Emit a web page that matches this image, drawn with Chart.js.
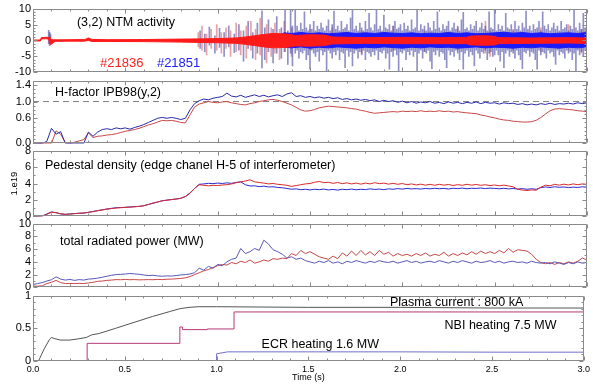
<!DOCTYPE html>
<html><head><meta charset="utf-8">
<script src="https://cdn.jsdelivr.net/npm/chart.js@4.4.1/dist/chart.umd.min.js"></script>
<style>html,body{margin:0;padding:0;background:#fff;width:593px;height:385px;overflow:hidden}#wrap{position:relative;width:593px;height:385px}</style>
</head><body><div id="wrap"></div>
<script>
// ---------- shared time grid (s) ----------
const tGrid = [0,0.025,0.05,0.075,0.1,0.125,0.15,0.175,0.2,0.225,0.25,0.275,0.3,0.325,0.35,0.375,0.4,0.425,0.45,0.475,0.5,0.525,0.55,0.575,0.6,0.625,0.65,0.675,0.7,0.725,0.75,0.775,0.8,0.825,0.85,0.875,0.9,0.925,0.95,0.975,1,1.025,1.05,1.075,1.1,1.125,1.15,1.175,1.2,1.225,1.25,1.275,1.3,1.325,1.35,1.375,1.4,1.425,1.45,1.475,1.5,1.525,1.55,1.575,1.6,1.625,1.65,1.675,1.7,1.725,1.75,1.775,1.8,1.825,1.85,1.875,1.9,1.925,1.95,1.975,2,2.025,2.05,2.075,2.1,2.125,2.15,2.175,2.2,2.225,2.25,2.275,2.3,2.325,2.35,2.375,2.4,2.425,2.45,2.475,2.5,2.525,2.55,2.575,2.6,2.625,2.65,2.675,2.7,2.725,2.75,2.775,2.8,2.825,2.85,2.875,2.9,2.925,2.95,2.975,3];

// ---------- panel 1 : (3,2) NTM activity ----------
const ntmRedT  = [0,0.04,0.045,0.075,0.085,0.09,0.095,0.1,0.11,0.12, 0.13,0.2,0.28,0.3,0.32,0.4,0.6,0.8,0.9,1.0, 1.1,1.15,1.2,1.25,1.3,1.35,1.38,1.42,1.5,1.58, 1.62,1.7,1.8,2.0,2.2,2.35,2.37,2.45,2.5,2.52, 2.7,2.9,3.0];
const ntmRedHi = [0.15,0.15,0.9,1.0,1.0,1.2,0.6,0.3,0.2,0.25, 0.2,0.25,0.3,0.8,0.35,0.25,0.3,0.45,0.5,0.6, 0.8,1.1,1.5,1.9,2.2,2.1,2.0,1.6,1.8,1.7, 1.1,1.0,0.9,1.0,0.9,1.0,1.4,1.5,1.3,0.9, 0.8,0.9,0.8];
const ntmRedLo = [-0.15,-0.15,0.5,0.55,0.5,-1.0,-1.3,-1.2,-0.6,-0.3, -0.25,-0.2,-0.2,0.0,-0.3,-0.3,-0.35,-0.5,-0.6,-0.7, -0.9,-1.2,-1.6,-2.0,-2.3,-2.2,-2.1,-1.7,-1.8,-1.6, -1.1,-1.0,-0.9,-1.0,-1.0,-1.0,-1.4,-1.5,-1.4,-1.0, -0.9,-0.8,-0.9];
const ntmBlueT  = [1.3,1.33,1.36,1.4,1.45,1.5,1.55,1.6,1.65,1.7, 1.75,1.8,1.85,1.9,1.95,2.0,2.05,2.1,2.15,2.2, 2.25,2.3,2.35,2.4,2.45,2.5,2.55,2.6,2.65,2.7, 2.75,2.8,2.85,2.9,2.95,3.0];
const ntmBlueHi = [0.6,1.5,2.4,2.2,2.5,2.2,2.4,2.1,2.3,2.5, 2.2,2.4,2.2,2.5,2.3,2.2,2.4,2.1,2.3,2.2, 2.5,2.2,2.4,2.1,2.2,2.4,2.6,2.3,2.5,2.2, 2.4,2.1,2.3,2.4,2.2,2.5];
const ntmBlueLo = [-0.6,-1.5,-2.1,-2.3,-2.0,-2.4,-2.1,-2.3,-2.0,-2.2, -2.4,-2.1,-2.3,-2.0,-2.2,-2.4,-2.1,-2.3,-2.0,-2.2, -2.1,-2.4,-2.2,-2.0,-2.3,-2.1,-2.2,-2.4,-2.1,-2.3, -2.0,-2.2,-2.4,-2.1,-2.3,-2.0];
// individual oscillation peaks (time, upper, lower)
const spkBT = [0.085,0.09,0.095,0.905,0.93,0.955,0.985,1.01,1.035,1.06,
 1.09,1.115,1.14,1.165,1.19,1.215,1.24,1.255,1.275,1.3,
 1.32,1.345,1.365,1.38,1.395,1.405,1.42,1.43,1.44,1.45,
 1.46,1.47,1.48,1.49,1.5,1.51,1.52,1.53,1.54,1.55,
 1.56,1.57,1.58,1.59,1.6,1.61,1.62,1.63,1.64,1.65,
 1.66,1.67,1.68,1.69,1.7,1.71,1.72,1.73,1.74,1.75,
 1.76,1.77,1.78,1.79,1.8,1.81,1.82,1.83,1.84,1.85,
 1.86,1.87,1.88,1.89,1.9,1.91,1.92,1.93,1.94,1.95,
 1.96,1.97,1.98,1.99,2.0,2.01,2.02,2.03,2.04,2.05,
 2.06,2.07,2.08,2.09,2.1,2.11,2.12,2.13,2.14,2.15,
 2.16,2.17,2.18,2.19,2.2,2.21,2.22,2.23,2.24,2.25,
 2.26,2.27,2.28,2.29,2.3,2.31,2.32,2.33,2.34,2.35,
 2.36,2.37,2.38,2.39,2.4,2.41,2.42,2.43,2.44,2.45,
 2.46,2.47,2.48,2.49,2.5,2.51,2.52,2.53,2.54,2.55,
 2.56,2.57,2.58,2.59,2.6,2.61,2.62,2.63,2.64,2.65,
 2.66,2.67,2.68,2.69,2.7,2.71,2.72,2.73,2.74,2.75,
 2.76,2.77,2.78,2.79,2.8,2.81,2.82,2.83,2.84,2.85,
 2.86,2.87,2.88,2.89,2.9,2.91,2.92,2.93,2.94,2.95,
 2.96,2.97,2.98,2.99];
const spkBHi = [3.2,2.6,2.0,3.0,2.0,4.2,1.5,3.8,2.5,4.5,
 2.0,5.0,3.0,6.0,2.5,5.5,9.3,4.0,6.5,3.5,
 7.5,4.0,9.5,3.0,9.8,4.5,9.5,4.5,3.0,5.5,
 3.5,9.0,4.0,3.0,5.0,3.5,6.0,3.0,4.5,3.5,
 5.5,4.0,3.0,4.5,6.5,3.0,5.0,9.2,3.5,4.5,
 3.0,6.0,3.5,4.0,5.0,3.0,7.0,9.5,3.5,4.5,
 3.0,5.5,4.0,3.0,6.0,3.5,8.5,4.0,3.0,5.0,
 9.8,3.5,4.5,3.0,8.0,4.0,3.5,5.0,3.0,4.5,
 6.0,3.5,4.0,5.0,3.0,5.5,3.5,4.5,3.0,6.5,
 3.5,4.0,9.5,3.0,5.0,3.5,4.5,3.0,5.5,4.0,
 3.0,6.0,3.5,9.0,4.0,3.0,5.0,3.5,4.5,6.0,
 3.0,4.0,5.5,3.5,4.5,3.0,6.5,8.8,3.5,4.0,
 3.0,5.0,3.5,4.5,6.0,3.0,4.0,5.5,3.5,4.5,
 3.0,9.0,4.0,3.5,9.8,3.0,5.0,3.5,4.5,3.0,
 8.5,4.0,3.5,5.0,3.0,6.0,3.5,4.5,3.0,5.5,
 4.0,9.2,3.5,4.5,3.0,5.0,3.5,4.0,6.0,3.0,
 9.0,4.5,3.5,5.0,3.0,4.0,5.5,3.5,4.5,3.0,
 6.0,3.5,4.0,5.0,3.0,4.5,3.5,9.8,4.0,3.0,
 5.5,3.5,8.5,4.0];
const spkBLo = [-1.0,-1.6,-0.6,-2.5,-3.5,-1.5,-4.0,-2.2,-5.0,-2.0,
 -3.8,-3.0,-6.5,-2.5,-5.5,-4.0,-8.6,-6.0,-3.5,-7.0,
 -4.0,-5.5,-3.5,-7.5,-4.0,-8.0,-4.0,-3.0,-5.5,-3.5,
 -4.0,-3.0,-6.0,-4.5,-9.0,-3.0,-4.0,-5.0,-3.5,-6.5,
 -3.0,-4.5,-3.5,-9.5,-3.0,-4.0,-5.5,-3.5,-4.5,-3.0,
 -6.0,-3.5,-4.0,-8.5,-3.0,-5.0,-3.5,-8.0,-4.0,-3.0,
 -5.5,-3.5,-4.5,-3.0,-6.0,-3.5,-4.0,-5.0,-3.5,-4.5,
 -3.0,-6.0,-3.5,-4.0,-3.0,-5.5,-4.0,-9.0,-3.5,-5.0,
 -3.0,-4.5,-9.8,-3.5,-4.0,-3.0,-6.0,-3.5,-4.5,-3.0,
 -5.0,-3.5,-9.6,-4.0,-3.0,-5.5,-3.5,-4.0,-3.0,-6.5,
 -8.8,-3.5,-4.5,-3.0,-5.0,-3.5,-4.0,-6.0,-8.5,-3.0,
 -4.5,-3.5,-5.0,-3.0,-4.0,-6.0,-3.5,-9.0,-4.0,-3.0,
 -5.0,-3.5,-4.5,-8.0,-3.0,-4.0,-5.5,-3.5,-4.0,-3.0,
 -6.0,-4.0,-3.5,-5.0,-4.5,-3.0,-4.5,-6.5,-3.5,-8.5,
 -4.0,-3.0,-5.0,-3.5,-4.0,-5.5,-3.0,-4.5,-6.0,-8.8,
 -3.5,-4.0,-3.0,-5.0,-3.5,-4.0,-6.0,-9.0,-3.0,-4.5,
 -3.5,-4.0,-5.5,-3.0,-4.0,-3.5,-5.0,-7.5,-3.0,-4.5,
 -3.5,-4.0,-5.5,-3.0,-4.0,-3.5,-6.0,-4.0,-9.5,-3.0,
 -4.5,-3.5,-5.0,-3.0];
const spkRT  = [0.895,0.915,0.94,0.965,0.995,1.02,1.045,1.07,1.1,1.125, 1.155,1.18,1.205,1.23,1.265,1.29,1.31,1.335,1.36,1.4, 1.5,1.62,1.78,1.95,2.12,2.3,2.45,2.475,2.6,2.75, 2.9,2.97];
const spkRHi = [2.5,4.5,2.0,3.5,5.0,2.5,4.0,3.0,5.5,3.0, 4.5,6.0,3.5,7.0,5.0,4.0,5.5,3.5,6.0,4.0, 3.5,4.0,3.0,4.5,3.0,4.0,6.0,3.0,3.5,4.0, 5.0,3.5];
const spkRLo = [-2.0,-3.0,-4.5,-2.5,-3.0,-4.0,-2.5,-5.0,-3.5,-4.5, -5.5,-3.0,-6.0,-4.5,-7.0,-5.0,-4.0,-6.0,-3.5,-5.0, -3.0,-2.5,-4.0,-3.0,-3.5,-3.0,-4.0,-5.0,-3.0,-3.5, -3.0,-4.0];

// ---------- panel 2 : H-factor ----------
const hBlue = [0,0,0,0.05,0.36,0.22,0.28,0,0,0,
 0,0,0.27,0.17,0.27,0.33,0.35,0.33,0.37,0.35,
 0.37,0.34,0.38,0.41,0.45,0.5,0.55,0.6,0.62,0.6,
 0.62,0.6,0.57,0.6,0.8,0.95,1.02,1.06,1.04,1.08,
 1.1,1.12,1.2,1.13,1.11,1.15,1.1,1.13,1.16,1.12,
 1.15,1.11,1.14,1.16,1.12,1.18,1.21,1.12,1.14,1.1,
 1.12,1.09,1.11,1.08,1.1,1.07,1.09,1.05,1.07,1.04,
 1.06,1.03,1.05,1.02,1.04,1.0,1.03,1.0,1.02,0.98,
 1.01,0.97,1.0,0.96,0.99,0.97,1.0,0.96,0.98,0.95,
 0.99,0.96,0.98,0.95,0.98,0.96,0.99,0.95,0.98,0.96,
 0.97,0.94,0.97,0.95,0.96,0.93,0.95,0.92,0.94,0.92,
 0.95,0.93,0.96,0.93,0.95,0.94,0.96,0.94,0.97,0.95,
 0.97];
const hRed = [0,0,0,0,0,0.3,0.22,0.02,0,0.03,
 0.06,0.09,0.25,0.14,0.17,0.18,0.2,0.21,0.23,0.26,
 0.29,0.31,0.33,0.36,0.4,0.44,0.47,0.51,0.55,0.54,
 0.55,0.53,0.5,0.49,0.68,0.87,0.94,0.97,1.0,0.98,
 0.97,0.99,1.0,0.97,0.95,0.93,0.92,0.95,0.97,1.0,
 1.02,1.04,1.05,1.03,1.0,0.96,0.92,0.86,0.8,0.77,
 0.78,0.81,0.85,0.87,0.89,0.88,0.87,0.86,0.85,0.83,
 0.82,0.79,0.77,0.74,0.72,0.73,0.74,0.75,0.76,0.75,
 0.77,0.76,0.77,0.76,0.78,0.76,0.77,0.76,0.78,0.76,
 0.77,0.75,0.76,0.74,0.73,0.72,0.71,0.68,0.66,0.63,
 0.61,0.58,0.56,0.55,0.53,0.52,0.51,0.51,0.52,0.55,
 0.62,0.7,0.78,0.82,0.83,0.82,0.81,0.8,0.78,0.77,
 0.76];
const hRefLevel = 1.0;

// ---------- panel 3 : pedestal density (1e19) ----------
const dBlue = [0,0,0.05,0.3,0.55,0.45,0.3,0.25,0.3,0.35,
 0.38,0.4,0.5,0.6,0.7,0.8,0.9,0.98,1.05,1.08,
 1.1,1.15,1.18,1.22,1.3,1.45,1.6,1.75,1.9,1.98,
 2.05,2.12,2.2,2.4,2.8,3.4,3.9,3.95,4.02,3.98,
 4.05,4.0,4.08,4.02,4.12,4.2,3.85,3.7,3.72,3.62,
 3.68,3.58,3.6,3.52,3.48,3.4,3.3,3.35,3.25,3.3,
 3.22,3.3,3.25,3.32,3.22,3.28,3.2,3.3,3.25,3.32,
 3.24,3.3,3.26,3.35,3.28,3.32,3.25,3.35,3.3,3.38,
 3.32,3.4,3.34,3.38,3.32,3.4,3.35,3.42,3.36,3.4,
 3.33,3.42,3.38,3.44,3.36,3.42,3.4,3.45,3.38,3.44,
 3.4,3.36,3.42,3.34,3.4,3.32,3.38,3.3,3.36,3.3,
 3.5,3.58,3.52,3.6,3.54,3.58,3.5,3.56,3.52,3.6,
 3.55];
const dRed = [0,0,0.05,0.25,0.5,0.45,0.32,0.25,0.28,0.33,
 0.38,0.42,0.48,0.58,0.7,0.78,0.88,0.95,1.02,1.06,
 1.1,1.13,1.17,1.22,1.3,1.45,1.62,1.76,1.9,1.97,
 2.04,2.1,2.2,2.42,2.85,3.4,3.85,3.78,3.72,3.78,
 3.75,3.82,3.85,3.95,4.1,4.2,4.3,4.45,4.2,4.12,
 4.05,3.95,4.0,3.9,3.85,3.78,3.65,3.75,3.85,3.95,
 4.0,4.15,4.25,4.1,4.15,4.02,4.12,3.98,4.08,3.95,
 4.05,3.92,4.05,3.95,4.1,3.98,4.05,3.92,4.02,3.9,
 4.0,3.85,3.95,3.82,3.92,3.8,3.9,3.78,3.9,3.8,
 3.88,3.76,3.86,3.78,3.9,3.8,3.88,3.78,3.85,3.75,
 3.82,3.72,3.8,3.7,3.6,3.3,3.2,3.15,3.22,3.18,
 3.55,3.8,3.72,3.9,3.8,3.92,3.82,3.95,3.85,3.95,
 3.9];

// ---------- panel 4 : total radiated power (MW) ----------
const rBlue = [0.45,0.6,0.75,1.0,1.2,1.65,1.3,1.15,1.25,1.1,
 1.22,1.15,1.3,1.35,1.45,1.6,1.75,1.9,2.0,2.05,
 2.1,2.18,2.12,2.05,1.95,1.85,1.9,1.8,1.75,1.8,
 1.78,1.85,1.95,2.0,2.1,2.3,3.0,2.7,3.3,3.0,
 3.6,3.4,4.0,4.4,4.6,6.1,5.3,5.6,6.1,5.8,
 7.4,6.8,5.9,5.6,5.2,4.6,4.8,4.4,4.6,4.2,
 4.0,3.8,4.1,3.9,4.2,3.8,4.0,3.7,4.1,3.9,
 4.2,4.0,3.8,4.1,3.9,4.2,4.0,3.9,4.1,3.8,
 4.0,4.2,3.9,4.1,3.8,4.0,4.1,3.9,4.2,4.0,
 3.8,4.1,3.9,4.2,4.0,3.8,4.1,3.9,4.0,4.2,
 3.9,4.1,3.8,4.0,4.1,3.9,4.0,3.8,4.1,3.9,
 3.8,3.9,3.7,4.0,3.8,3.6,3.9,3.7,4.0,3.8,
 3.9];
const rRed = [0.2,0.2,0.25,0.6,0.8,1.1,0.75,0.6,0.62,0.6,
 0.63,0.6,0.7,0.8,0.95,1.0,1.1,1.15,1.22,1.2,
 1.25,1.2,1.23,1.18,1.2,1.22,1.2,1.25,1.22,1.28,
 1.3,1.35,1.4,1.5,1.7,2.0,2.3,2.6,2.8,3.1,
 3.4,3.6,3.5,3.9,3.7,4.1,3.9,4.3,3.8,4.0,
 4.3,4.1,4.5,4.4,4.6,4.5,5.3,5.0,5.8,5.3,
 5.6,5.2,4.8,4.6,4.4,4.9,4.5,5.4,4.9,5.7,
 5.0,5.8,5.1,5.6,5.0,5.8,5.2,5.5,4.9,5.3,
 5.0,5.2,4.9,5.3,5.0,5.4,4.9,5.2,5.0,5.5,
 4.9,5.3,5.0,5.4,5.1,5.6,5.2,5.7,5.3,5.6,
 5.3,5.8,5.4,6.1,5.5,5.9,5.8,5.7,5.2,4.4,
 3.9,3.7,3.9,3.6,3.9,3.7,4.0,3.8,4.1,4.6,
 4.3];

// ---------- panel 5 : plasma current / heating (normalised) ----------
const ipT  = [0,0.03,0.06,0.09,0.1,0.12,0.15,0.2,0.25,0.29,0.32,0.36,0.45,0.55,0.65,0.75,0.8,0.85,0.9,1.0,1.5,2.0,2.5,3.0];
const ipV  = [0,0,0.18,0.33,0.36,0.34,0.32,0.32,0.34,0.36,0.4,0.42,0.5,0.59,0.68,0.76,0.8,0.82,0.83,0.83,0.82,0.82,0.81,0.81];
const nbiT = [0,0.295,0.8,0.815,0.95,1.095,3.0];
const nbiV = [0,0.27,0.52,0.48,0.49,0.75,0.75];
const ecrT = [0,0.998,1.0,1.06,1.5,2.0,2.5,3.0];
const ecrV = [0,0,0.11,0.14,0.14,0.14,0.135,0.135];

// ---------- ticks ----------
const xMajor = [0,0.5,1,1.5,2,2.5,3];
const xMinor = [0.1,0.2,0.3,0.4,0.6,0.7,0.8,0.9,1.1,1.2,1.3,1.4,1.6,1.7,1.8,1.9,2.1,2.2,2.3,2.4,2.6,2.7,2.8,2.9];
const xTickLabels = ['0.0','0.5','1.0','1.5','2.0','2.5','3.0'];
const p1Ticks = [-10,-5,0,5,10], p1Labels = ['-10','-5','0','5','10'], p1Minor = [-9,-8,-7,-6,-4,-3,-2,-1,1,2,3,4,6,7,8,9];
const p2Ticks = [0,0.6,1.0,1.4], p2Labels = ['0.0','0.6','1.0','1.4'], p2Minor = [0.1,0.2,0.3,0.4,0.5,0.7,0.8,0.9,1.1,1.2,1.3];
const p3Ticks = [0,2,4,6,8], p3Labels = ['0','2','4','6','8'], p3Minor = [1,3,5,7];
const p4Ticks = [0,2,4,6,8,10], p4Labels = ['0','2','4','6','8','10'], p4Minor = [1,3,5,7,9];
const p5Ticks = [0,0.5,1], p5Labels = ['0','0.5','1'], p5Minor = [0.1,0.2,0.3,0.4,0.6,0.7,0.8,0.9];

// ---------- helpers ----------
const FONT = "'Liberation Sans', Arial, Helvetica, sans-serif";
Chart.defaults.font.family = FONT;
Chart.defaults.color = '#000';

const pts = (xs, ys) => xs.map((x, i) => ({x, y: ys[i]}));
const line = (xs, ys, color, extra) => Object.assign({type:'line', data: pts(xs, ys), borderColor: color, backgroundColor: color, borderWidth: 1, pointRadius: 0, tension: 0, fill: false}, extra || {});
const bars = (xs, hi, lo, color) => ({type:'bar', data: xs.map((x, i) => ({x, y: [lo[i], hi[i]]})), backgroundColor: color, borderWidth: 0, barThickness: 1, grouped: false});

function idl(cfg) {
  return {
    id: 'idl',
    afterDatasetsDraw(chart) {
      const {ctx, chartArea: a} = chart;
      const xs = chart.scales.x, ys = chart.scales.y;
      const L = Math.round(a.left) + 0.5, R = Math.round(a.right) - 0.5;
      const T = Math.round(a.top) + 0.5, B = Math.round(a.bottom) - 0.5;
      ctx.save();
      ctx.strokeStyle = '#8a8a8a'; ctx.lineWidth = 1;
      ctx.beginPath();
      ctx.rect(L, T, R - L, B - T);
      const addX = (v, len) => { const p = Math.round(xs.getPixelForValue(v)) + 0.5; ctx.moveTo(p, T); ctx.lineTo(p, T + len); ctx.moveTo(p, B); ctx.lineTo(p, B - len); };
      const addY = (v, len) => { const p = Math.round(ys.getPixelForValue(v)) + 0.5; ctx.moveTo(L, p); ctx.lineTo(L + len, p); ctx.moveTo(R, p); ctx.lineTo(R - len, p); };
      xMajor.forEach(v => addX(v, 4));
      xMinor.forEach(v => addX(v, 2));
      cfg.yTicks.forEach(v => addY(v, 4));
      cfg.yMinor.forEach(v => addY(v, 2));
      ctx.stroke();
      ctx.textBaseline = 'middle'; ctx.textAlign = 'left';
      for (const t of cfg.texts) {
        ctx.font = (t.size || 12.5) + 'px ' + FONT;
        ctx.fillStyle = t.color || '#000';
        ctx.fillText(t.text, xs.getPixelForValue(t.x), ys.getPixelForValue(t.y));
      }
      ctx.restore();
    }
  };
}

function panel(top, h, datasets, cfg) {
  const bottomAxis = !!cfg.bottomAxis;
  const ch = bottomAxis ? h + 8 + 24 : h + 16;
  const c = document.createElement('canvas');
  c.width = 593; c.height = ch;
  c.style.cssText = 'position:absolute;left:0;top:' + (top - 8) + 'px;width:593px;height:' + ch + 'px';
  document.getElementById('wrap').appendChild(c);
  new Chart(c, {
    type: 'line',
    data: {datasets},
    options: {
      responsive: false, animation: false, devicePixelRatio: 1, events: [],
      layout: {padding: {top: 8, bottom: bottomAxis ? 0 : 8, left: 0, right: 6}},
      plugins: {legend: {display: false}, tooltip: {enabled: false}},
      scales: {
        x: {
          type: 'linear', min: 0, max: 3, offset: false, display: bottomAxis,
          grid: {display: false, drawTicks: false}, border: {display: false},
          ticks: {font: {size: 9}, padding: 3, autoSkip: false, maxRotation: 0, callback: (v, i) => xTickLabels[i]},
          afterBuildTicks: s => { s.ticks = xMajor.map(v => ({value: v})); },
          afterFit: s => { s.height = bottomAxis ? 24 : 0; },
          title: {display: bottomAxis, text: 'Time (s)', font: {size: 9}, padding: {top: 0, bottom: 2}}
        },
        y: {
          type: 'linear', min: cfg.yMin, max: cfg.yMax,
          grid: {display: false, drawTicks: false}, border: {display: false},
          ticks: {font: {size: 11}, padding: 2, autoSkip: false, callback: (v, i) => cfg.yLabels[i]},
          afterBuildTicks: s => { s.ticks = cfg.yTicks.map(v => ({value: v})); },
          afterFit: s => { s.width = 33; },
          title: cfg.yTitle ? {display: true, text: cfg.yTitle, font: {size: 9.5}, padding: {top: 9, bottom: 0}} : {display: false}
        }
      }
    },
    plugins: [idl(cfg)]
  });
}

// ---------- build panels ----------
panel(8, 65, [
  line(ntmRedT, ntmRedHi, '#ff1a1a', {fill: '+1', backgroundColor: '#ff1a1a'}),
  line(ntmRedT, ntmRedLo, '#ff1a1a'),
  line(ntmBlueT, ntmBlueHi, '#1a1aff', {fill: '+1', backgroundColor: '#1a1aff'}),
  line(ntmBlueT, ntmBlueLo, '#1a1aff'),
  bars(spkBT, spkBHi, spkBLo, 'rgba(70,70,160,0.6)'),
  bars(spkRT, spkRHi, spkRLo, 'rgba(215,100,110,0.6)')
], {yMin: -10, yMax: 10, yTicks: p1Ticks, yLabels: p1Labels, yMinor: p1Minor, texts: [
  {text: '(3,2) NTM activity', x: 0.238, y: 5.7},
  {text: '#21836', x: 0.363, y: -7.2, color: '#ff2020', size: 13},
  {text: '#21851', x: 0.671, y: -7.2, color: '#2020ff', size: 13}
]});

panel(80, 64, [
  line(tGrid, hBlue, '#2a2aa8'),
  line(tGrid, hRed, '#c84848'),
  line([0, 3], [hRefLevel, hRefLevel], '#808080', {borderDash: [6, 4]})
], {yMin: 0, yMax: 1.5, yTicks: p2Ticks, yLabels: p2Labels, yMinor: p2Minor, texts: [
  {text: 'H-factor IPB98(y,2)', x: 0.119, y: 1.22}
]});

panel(150, 67, [
  line(tGrid, dRed, '#d82a2a'),
  line(tGrid, dBlue, '#2a2ad0')
], {yMin: 0, yMax: 8, yTicks: p3Ticks, yLabels: p3Labels, yMinor: p3Minor, yTitle: '1.e19', texts: [
  {text: 'Pedestal density (edge chanel H-5 of interferometer)', x: 0.065, y: 6.2}
]});

panel(223, 65, [
  line(tGrid, rBlue, '#5858b8'),
  line(tGrid, rRed, '#c84848')
], {yMin: 0, yMax: 10, yTicks: p4Ticks, yLabels: p4Labels, yMinor: p4Minor, texts: [
  {text: 'total radiated power (MW)', x: 0.146, y: 7.23}
]});

panel(295, 66, [
  line(ipT, ipV, '#555555'),
  line(nbiT, nbiV, '#b43a78', {stepped: true}),
  line(ecrT, ecrV, '#7070c8')
], {bottomAxis: true, yMin: 0, yMax: 1, yTicks: p5Ticks, yLabels: p5Labels, yMinor: p5Minor, texts: [
  {text: 'Plasma current : 800 kA', x: 1.944, y: 0.894},
  {text: 'NBI heating 7.5 MW', x: 2.242, y: 0.545},
  {text: 'ECR heating 1.6 MW', x: 1.245, y: 0.258}
]});
</script>
</body></html>
